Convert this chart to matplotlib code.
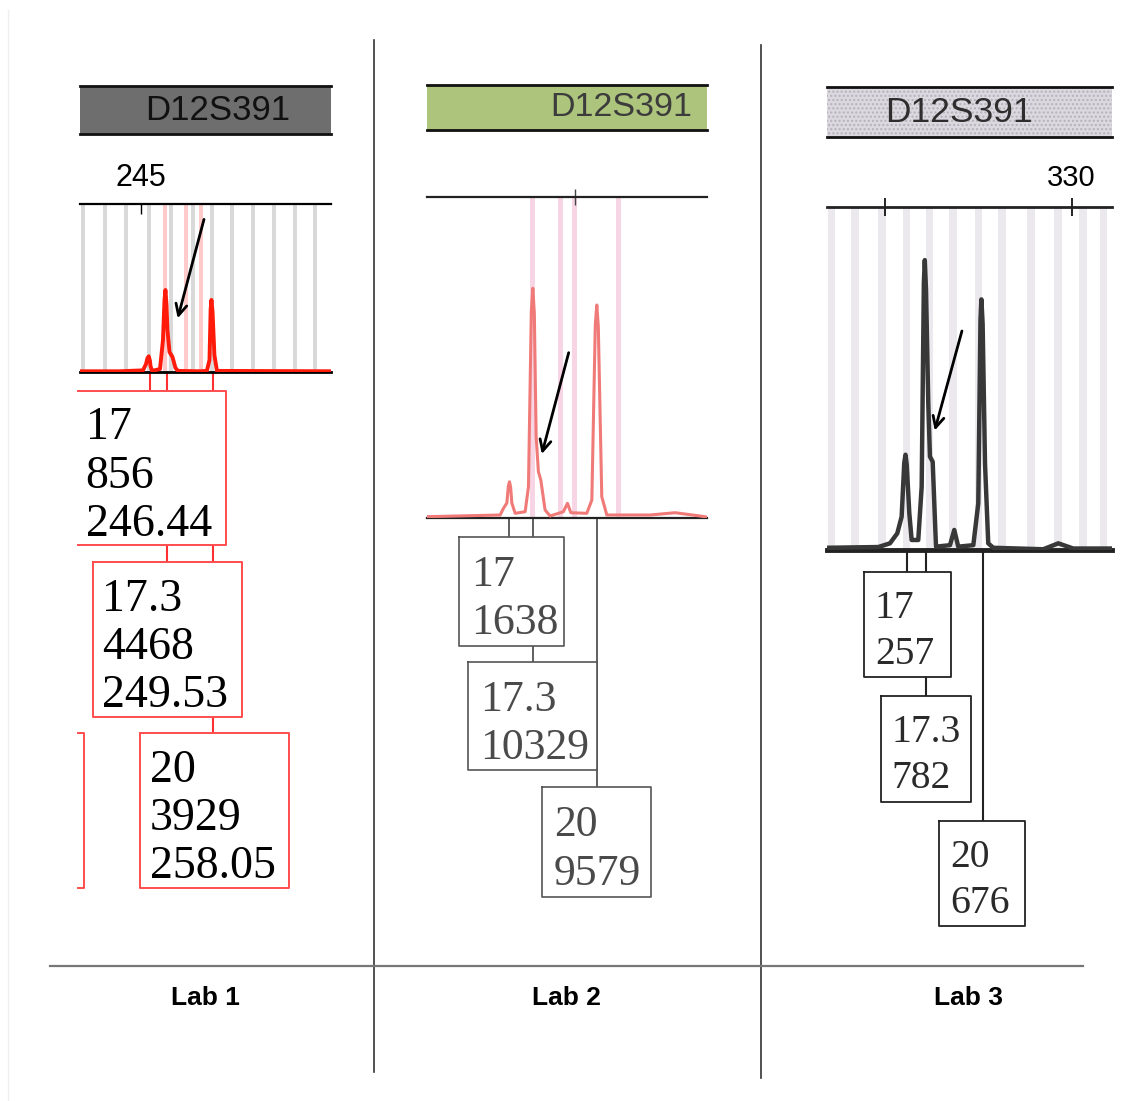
import numpy as np
import matplotlib.pyplot as plt
from matplotlib.patches import Rectangle

W, H = 1147, 1101

marker = "D12S391"
labs = ["Lab 1", "Lab 2", "Lab 3"]
alleles = ["17", "17.3", "20"]

# called alleles: size (bp) and peak height (RFU)
lab1_sizes = [246.44, 249.53, 258.05]
lab1_heights = [856, 4468, 3929]
lab2_sizes = [246.4, 249.5, 258.0]
lab2_heights = [1638, 10329, 9579]
lab3_sizes = [303.3, 306.4, 315.5]
lab3_heights = [257, 782, 676]

# traces (bp, RFU)
lab1_bp = [233.7, 241.1, 245.37, 245.93, 246.2, 246.44, 246.65, 246.76, 247.04, 248.52,
           249.07, 249.35, 249.53, 249.72, 249.9, 250.28, 250.83, 251.39, 251.85, 255.93,
           257.2, 257.69, 257.9, 258.05, 258.25, 258.6, 259.07, 280.2]
lab1_rfu = [40, 40, 90, 436, 760, 856, 620, 327, 60, 160,
            1744, 3900, 4468, 3700, 2289, 1090, 818, 218, 60, 40,
            60, 654, 3400, 3929, 3300, 927, 60, 40]

lab2_bp = [235.4, 245.16, 245.6, 246.05, 246.25, 246.4, 246.55, 246.71, 247.15, 248.48,
           248.92, 249.3, 249.5, 249.7, 249.94, 250.24, 250.56, 251.13, 251.8, 253.56,
           254.1, 254.55, 256.67, 257.34, 257.8, 258.0, 258.2, 258.66, 259.33, 265.1,
           268.4, 271.7, 272.6]
lab2_rfu = [72, 148, 449, 687, 1450, 1638, 1400, 687, 224, 296,
            1419, 9300, 10329, 9200, 3664, 2092, 1720, 373, 103, 296,
            674, 251, 224, 822, 8700, 9579, 8600, 970, 148, 148,
            251, 103, 58]

lab3_bp = [290.63, 298.92, 300.8, 301.98, 302.68, 303.1, 303.3, 303.5, 303.91, 304.29,
           305.35, 305.9, 306.25, 306.4, 306.6, 306.96, 307.23, 307.67, 308.2, 310.45,
           311.14, 311.78, 314.2, 315.0, 315.35, 315.5, 315.7, 316.08, 316.6, 317.41,
           325.45, 327.86, 330.27, 336.45]
lab3_rfu = [6, 8, 18, 45, 90, 235, 257, 230, 99, 27,
            27, 171, 720, 782, 700, 396, 252, 238, 9, 13,
            54, 9, 13, 126, 620, 676, 610, 234, 18, 6,
            2, 18, 4, 4]

# allele bins
lab1_bins_gray = [234.3, 238.3, 242.3, 246.4, 250.6, 254.6, 258.2, 261.9, 265.7, 269.6, 273.5, 277.3]
lab1_bins_pink = [249.5, 253.4, 256.1]
lab2_bins = [249.5, 253.2, 255.1, 260.9]
lab3_bins = [291.4, 295.2, 299.5, 303.5, 307.2, 310.9, 315.0, 318.8, 323.5, 327.8, 331.8, 335.1]

fig = plt.figure(figsize=(W / 100, H / 100), dpi=100)
bg = fig.add_axes([0, 0, 1, 1])
bg.set_xlim(0, W)
bg.set_ylim(H, 0)
bg.axis('off')


def panel(x0, x1, ytop, ybot, xlim, ylim):
    ax = fig.add_axes([x0 / W, 1 - ybot / H, (x1 - x0) / W, (ybot - ytop) / H])
    ax.set_xlim(*xlim)
    ax.set_ylim(*ylim)
    ax.patch.set_alpha(0)
    ax.spines[['left', 'right']].set_visible(False)
    ax.set_yticks([])
    return ax


def bg_xy(ax, x, y):
    return bg.transData.inverted().transform(ax.transData.transform((x, y)))


def box(x0, y0, x1, y1, ec, lw, open_left=False):
    bg.add_patch(Rectangle((x0, y0), x1 - x0, y1 - y0, fc='white', ec='none', zorder=2))
    if open_left:
        bg.plot([x0, x1, x1, x0], [y0, y0, y1, y1], color=ec, lw=lw, zorder=3)
    else:
        bg.plot([x0, x1, x1, x0, x0], [y0, y0, y1, y1, y0], color=ec, lw=lw, zorder=3)


def header(x0, x1, y0, y1, fc, tx, ty, ha, size, tcolor, hatch=None):
    bg.add_patch(Rectangle((x0, y0), x1 - x0, y1 - y0, fc=fc, ec='#b5b2ba' if hatch else 'none',
                           lw=0, hatch=hatch, zorder=1))
    bg.plot([x0, x1], [y0, y0], color='#111111', lw=2, zorder=2)
    bg.plot([x0, x1], [y1, y1], color='#111111', lw=2, zorder=2)
    bg.text(tx, ty, marker, ha=ha, va='center', fontsize=size, color=tcolor,
            family='Liberation Sans', zorder=3)


# ---------------- Lab 1 ----------------
header(80, 331, 86, 134, '#6e6e6e', 218, 111, 'center', 25, '#111111')
ax1 = panel(80, 331, 204.3, 372, (233.7, 280.2), (0, 9140))
for b in lab1_bins_gray:
    ax1.axvspan(b - 0.38, b + 0.38, color='#d9d9d9', lw=0, zorder=0)
for b in lab1_bins_pink:
    ax1.axvspan(b - 0.38, b + 0.38, color='#ffcaca', lw=0, zorder=0)
ax1.plot(lab1_bp, lab1_rfu, color='#ff1a0a', lw=2.8, zorder=3)
ax1.spines['top'].set_linewidth(1.6)
ax1.spines['bottom'].set_linewidth(2)
ax1.xaxis.tick_top()
ax1.set_xticks([245])
ax1.set_xticklabels(['245'], family='Liberation Sans', fontsize=22)
ax1.tick_params(axis='x', direction='in', length=7, width=1, pad=8)
ax1.annotate('', xy=(251.67, 2780), xytext=(256.8, 8464),
             arrowprops=dict(arrowstyle='->', lw=2, color='black', mutation_scale=20))

lab1_boxes = [(78, 391, 226, 545), (92.7, 562.3, 241.7, 716.7), (140, 733.3, 289.3, 888.3)]
for i in range(3):
    cx, cy = bg_xy(ax1, lab1_sizes[i], 0)
    bg.plot([cx + 1.5, cx + 1.5], [cy, lab1_boxes[i][1]], color='#ff3030', lw=1.5, zorder=1)
for i, (x0, y0, x1, y1) in enumerate(lab1_boxes):
    box(x0, y0, x1, y1, '#ff4d4d', 1.4, open_left=(i == 0))
    rows = [alleles[i], str(lab1_heights[i]), f"{lab1_sizes[i]:.2f}"]
    for j, s in enumerate(rows):
        bg.text(x0 + (7.5 if i == 0 else 9.5), y0 + 37 + 48.3 * j, s, ha='left', va='center',
                fontsize=33, family='Liberation Serif', color='black', zorder=4)
bg.plot([78, 84, 84, 78], [733.3, 733.3, 888.3, 888.3], color='#ff4d4d', lw=1.4, zorder=3)

# ---------------- Lab 2 ----------------
header(426.7, 707, 85, 130, '#adc47c', 692, 108, 'right', 24.5, '#3c3c3c')
ax2 = panel(426.7, 706.7, 196.7, 518.3, (235.4, 272.6), (0, 14440))
for b in lab2_bins:
    ax2.axvspan(b - 0.33, b + 0.33, color='#f7d5e4', lw=0, zorder=0)
ax2.plot(lab2_bp, lab2_rfu, color='#f07a78', lw=2.2, zorder=3)
for s in ['top', 'bottom']:
    ax2.spines[s].set_linewidth(1.6)
    ax2.spines[s].set_color('#222222')
ax2.xaxis.tick_top()
ax2.set_xticks([255.1])
ax2.set_xticklabels([''])
ax2.tick_params(axis='x', direction='inout', length=11, width=1, color='#444444')
ax2.annotate('', xy=(250.6, 2766), xytext=(254.36, 7557),
             arrowprops=dict(arrowstyle='->', lw=2, color='black', mutation_scale=20))

lab2_boxes = [(459.3, 536.7, 564.3, 645.7), (468.3, 661.7, 596.7, 770), (541.7, 787.3, 650.7, 896.7)]
for i in range(3):
    cx, cy = bg_xy(ax2, lab2_sizes[i], 0)
    bg.plot([cx, cx], [cy, lab2_boxes[i][1]], color='#444444', lw=1.2, zorder=1)
for i, (x0, y0, x1, y1) in enumerate(lab2_boxes):
    box(x0, y0, x1, y1, '#555555', 1.2)
    rows = [alleles[i], str(lab2_heights[i])]
    for j, s in enumerate(rows):
        bg.text(x0 + 12, y0 + 38 + 48.5 * j, s, ha='left', va='center',
                fontsize=31.5, family='Liberation Serif', color='#4a4a4a', zorder=4)

# ---------------- Lab 3 ----------------
header(826.7, 1112, 87, 137, '#dcd8e0', 959, 113, 'center', 25.5, '#2e2e2e', hatch='....')
ax3 = panel(826.7, 1111.7, 206.7, 550, (290.63, 336.45), (0, 926))
for b in lab3_bins:
    ax3.axvspan(b - 0.6, b + 0.6, color='#ebe8ee', lw=0, zorder=0)
ax3.plot(lab3_bp, lab3_rfu, color='#383838', lw=3.2, zorder=3)
ax3.spines['top'].set_linewidth(2)
ax3.spines['bottom'].set_linewidth(3.5)
for s in ['top', 'bottom']:
    ax3.spines[s].set_color('#222222')
ax3.xaxis.tick_top()
ax3.set_xticks([300, 330])
ax3.set_xticklabels(['', '330'], family='Liberation Sans', fontsize=21)
ax3.tick_params(axis='x', direction='inout', length=13, width=1.2, pad=4)
ax3.annotate('', xy=(307.88, 315), xytext=(312.49, 598),
             arrowprops=dict(arrowstyle='->', lw=2, color='black', mutation_scale=20))

lab3_boxes = [(864, 571.7, 950.7, 677.3), (880.7, 696, 970.7, 802.3), (939.3, 820.7, 1025, 925.7)]
for i in range(3):
    cx, cy = bg_xy(ax3, lab3_sizes[i], 0)
    bg.plot([cx + 1.5, cx + 1.5], [cy, lab3_boxes[i][1]], color='#222222', lw=1.5, zorder=1)
for i, (x0, y0, x1, y1) in enumerate(lab3_boxes):
    box(x0, y0, x1, y1, '#222222', 1.3)
    rows = [alleles[i], str(lab3_heights[i])]
    for j, s in enumerate(rows):
        bg.text(x0 + 11, y0 + 37 + 46 * j, s, ha='left', va='center',
                fontsize=28.5, family='Liberation Serif', color='#2a2a2a', zorder=4)

# ---------------- frame ----------------
bg.plot([374, 374], [40, 1072], color='#333333', lw=1.2)
bg.plot([761, 761], [45, 1078], color='#333333', lw=1.2)
bg.plot([50, 1083], [966, 966], color='#777777', lw=1.6)
bg.plot([8, 8], [10, 1101], color='#eeeeee', lw=1)
for x, name in zip([205, 566, 969], labs):
    bg.text(x, 998, name, ha='center', va='center', fontsize=19, fontweight='bold',
            family='Liberation Sans', color='black')

fig.savefig('out.png', dpi=100)
